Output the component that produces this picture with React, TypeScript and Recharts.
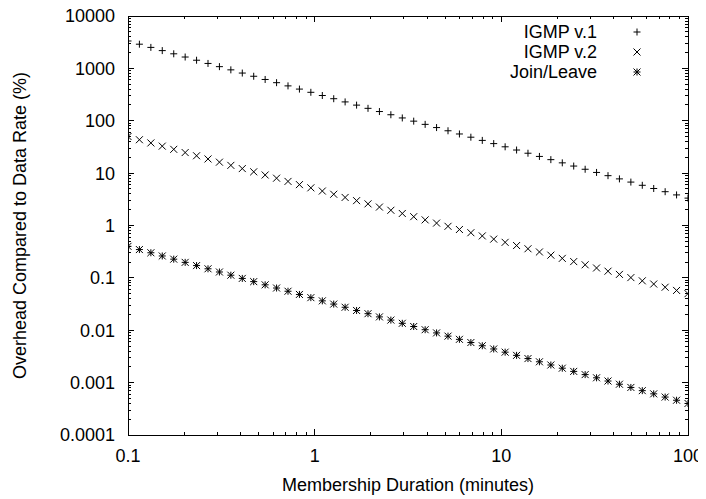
import { ScatterChart, Scatter, XAxis, YAxis, ReferenceArea } from "recharts";

// membership duration (minutes), 50 samples per series
const durations = [
  0.1, 0.1151, 0.1326, 0.1526, 0.1758, 0.2024, 0.233, 0.2683, 0.3089, 0.3556,
  0.4095, 0.4715, 0.5429, 0.6251, 0.7197, 0.8286, 0.9541, 1.099, 1.265, 1.456,
  1.677, 1.931, 2.223, 2.56, 2.947, 3.393, 3.907, 4.498, 5.18, 5.964,
  6.867, 7.906, 9.103, 10.48, 12.07, 13.89, 16.0, 18.42, 21.21, 24.42,
  28.12, 32.37, 37.28, 42.92, 49.42, 56.9, 65.51, 75.43, 86.85, 100,
];

const igmpV1 = [
  3333, 2895, 2514, 2184, 1897, 1647, 1431, 1242, 1079, 937.2,
  814.0, 706.9, 614.0, 533.3, 463.1, 402.2, 349.3, 303.4, 263.5, 228.9,
  198.8, 172.6, 149.9, 130.2, 113.1, 98.23, 85.31, 74.09, 64.35, 55.89,
  48.54, 42.16, 36.61, 31.8, 27.62, 23.99, 20.83, 18.09, 15.71, 13.65,
  11.85, 10.3, 8.942, 7.766, 6.745, 5.858, 5.088, 4.419, 3.838, 3.333,
];

const igmpV2 = [
  50, 43.43, 37.72, 32.76, 28.45, 24.71, 21.46, 18.64, 16.19, 14.06,
  12.21, 10.6, 9.211, 8.0, 6.948, 6.034, 5.241, 4.551, 3.953, 3.433,
  2.982, 2.59, 2.249, 1.953, 1.697, 1.474, 1.28, 1.112, 0.9654, 0.8384,
  0.7282, 0.6325, 0.5493, 0.4771, 0.4143, 0.3598, 0.3125, 0.2714, 0.2357, 0.2047,
  0.1778, 0.1544, 0.1341, 0.1165, 0.1012, 0.08788, 0.07632, 0.06629, 0.05757, 0.05,
];

const joinLeave = [
  0.4, 0.3474, 0.3017, 0.262, 0.2276, 0.1977, 0.1717, 0.1491, 0.1295, 0.1125,
  0.09768, 0.08484, 0.07368, 0.064, 0.05558, 0.04827, 0.04192, 0.03641, 0.03162, 0.02747,
  0.02385, 0.02072, 0.01799, 0.01563, 0.01357, 0.01179, 0.01024, 0.008892, 0.007723, 0.006707,
  0.005825, 0.00506, 0.004394, 0.003816, 0.003315, 0.002879, 0.0025, 0.002171, 0.001886, 0.001638,
  0.001423, 0.001236, 0.001073, 0.000932, 0.000809, 0.000703, 0.000611, 0.00053, 0.000461, 0.0004,
];

const xMajorTicks = [0.1, 1, 10, 100];
const yMajorTicks = [0.0001, 0.001, 0.01, 0.1, 1, 10, 100, 1000, 10000];
const minorSteps = [2, 3, 4, 5, 6, 7, 8, 9];

const FONT = '"Liberation Sans", Arial, Helvetica, sans-serif';
const FONT_SIZE = 18;

// the wrapper is pulled up over the body margin so the top tick label has room
const CHART_W = 698;
const CHART_H = 499;
const MARGIN = { top: 16, right: 18, bottom: 0, left: 0 };
const Y_AXIS_W = 120;
const X_AXIS_H = 64;
const PLOT_W = CHART_W - MARGIN.left - MARGIN.right - Y_AXIS_W;
const PLOT_H = CHART_H - MARGIN.top - MARGIN.bottom - X_AXIS_H;
const MAJOR_LEN = 6;
const MINOR_LEN = 3;

const withMinors = (majors: number[]) => {
  const minors = majors.slice(0, -1).flatMap(d => minorSteps.map(m => d * m));
  return [...majors, ...minors].sort((a, b) => a - b);
};
const xTicks = withMinors(xMajorTicks);
const yTicks = withMinors(yMajorTicks);
const xMajorSet = new Set(xMajorTicks);
const yMajorSet = new Set(yMajorTicks);

const toPoints = (ys: number[]) => durations.map((x, i) => ({ x, y: ys[i] }));

// eslint-disable-next-line @typescript-eslint/no-explicit-any
const XTick = ({ x, y, payload }: any) => {
  const major = xMajorSet.has(payload.value);
  const len = major ? MAJOR_LEN : MINOR_LEN;
  return (
    <g>
      <line x1={x} x2={x} y1={y} y2={y - len} stroke="#000" shapeRendering="crispEdges" />
      <line x1={x} x2={x} y1={y - PLOT_H} y2={y - PLOT_H + len} stroke="#000" shapeRendering="crispEdges" />
      {major && (
        <text x={x} y={y + 21} dy="0.36em" textAnchor="middle" fill="#000" fontFamily={FONT} fontSize={FONT_SIZE}>
          {String(payload.value)}
        </text>
      )}
    </g>
  );
};

// eslint-disable-next-line @typescript-eslint/no-explicit-any
const YTick = ({ x, y, payload }: any) => {
  const major = yMajorSet.has(payload.value);
  const len = major ? MAJOR_LEN : MINOR_LEN;
  return (
    <g>
      <line x1={x} x2={x + len} y1={y} y2={y} stroke="#000" shapeRendering="crispEdges" />
      <line x1={x + PLOT_W} x2={x + PLOT_W - len} y1={y} y2={y} stroke="#000" shapeRendering="crispEdges" />
      {major && (
        <text x={x - 13} y={y} dy="0.36em" textAnchor="end" fill="#000" fontFamily={FONT} fontSize={FONT_SIZE}>
          {String(payload.value)}
        </text>
      )}
    </g>
  );
};

const R = 3.5;
const plusPath = (cx: number, cy: number) => `M${cx - R},${cy}H${cx + R}M${cx},${cy - R}V${cy + R}`;
const crossPath = (cx: number, cy: number) =>
  `M${cx - R},${cy - R}L${cx + R},${cy + R}M${cx - R},${cy + R}L${cx + R},${cy - R}`;

// eslint-disable-next-line @typescript-eslint/no-explicit-any
const PlusMark = ({ cx, cy }: any) => <path d={plusPath(cx, cy)} stroke="#000" fill="none" />;
// eslint-disable-next-line @typescript-eslint/no-explicit-any
const CrossMark = ({ cx, cy }: any) => <path d={crossPath(cx, cy)} stroke="#000" fill="none" />;
// eslint-disable-next-line @typescript-eslint/no-explicit-any
const StarMark = ({ cx, cy }: any) => (
  <path d={plusPath(cx, cy) + crossPath(cx, cy)} stroke="#000" fill="none" />
);

const series = [
  { name: "IGMP v.1", values: igmpV1, Mark: PlusMark },
  { name: "IGMP v.2", values: igmpV2, Mark: CrossMark },
  { name: "Join/Leave", values: joinLeave, Mark: StarMark },
];

export default function App() {
  return (
    <div style={{ position: "relative", width: CHART_W, height: CHART_H, marginTop: -8 }}>
      <ScatterChart width={CHART_W} height={CHART_H} margin={MARGIN}>
        <XAxis
          dataKey="x"
          type="number"
          scale="log"
          domain={[0.1, 100]}
          allowDataOverflow
          ticks={xTicks}
          interval={0}
          tick={XTick}
          tickLine={false}
          axisLine={false}
          tickSize={0}
          tickMargin={0}
          height={X_AXIS_H}
          label={{
            value: "Membership Duration (minutes)",
            position: "center",
            dy: 18,
            fill: "#000",
            fontFamily: FONT,
            fontSize: FONT_SIZE,
          }}
        />
        <YAxis
          dataKey="y"
          type="number"
          scale="log"
          domain={[0.0001, 10000]}
          allowDataOverflow
          ticks={yTicks}
          interval={0}
          tick={YTick}
          tickLine={false}
          axisLine={false}
          tickSize={0}
          tickMargin={0}
          width={Y_AXIS_W}
          label={{
            value: "Overhead Compared to Data Rate (%)",
            position: "center",
            angle: -90,
            dx: -48,
            fill: "#000",
            fontFamily: FONT,
            fontSize: FONT_SIZE,
          }}
        />
        <ReferenceArea
          x1={0.1}
          x2={100}
          y1={0.0001}
          y2={10000}
          fill="none"
          fillOpacity={0}
          stroke="#000"
          strokeWidth={1}
          shapeRendering="crispEdges"
        />
        {series.map(s => (
          <Scatter
            key={s.name}
            name={s.name}
            data={toPoints(s.values)}
            shape={s.Mark}
            isAnimationActive={false}
          />
        ))}
      </ScatterChart>
      <div
        style={{
          position: "absolute",
          left: 439,
          top: 22,
          fontFamily: FONT,
          fontSize: FONT_SIZE,
          lineHeight: "20px",
          color: "#000",
        }}
      >
        {series.map(s => (
          <div key={s.name} style={{ display: "flex", alignItems: "center", height: 20 }}>
            <span style={{ width: 150, textAlign: "right" }}>{s.name}</span>
            <svg width={80} height={20}>
              <s.Mark cx={40} cy={10} />
            </svg>
          </div>
        ))}
      </div>
    </div>
  );
}
